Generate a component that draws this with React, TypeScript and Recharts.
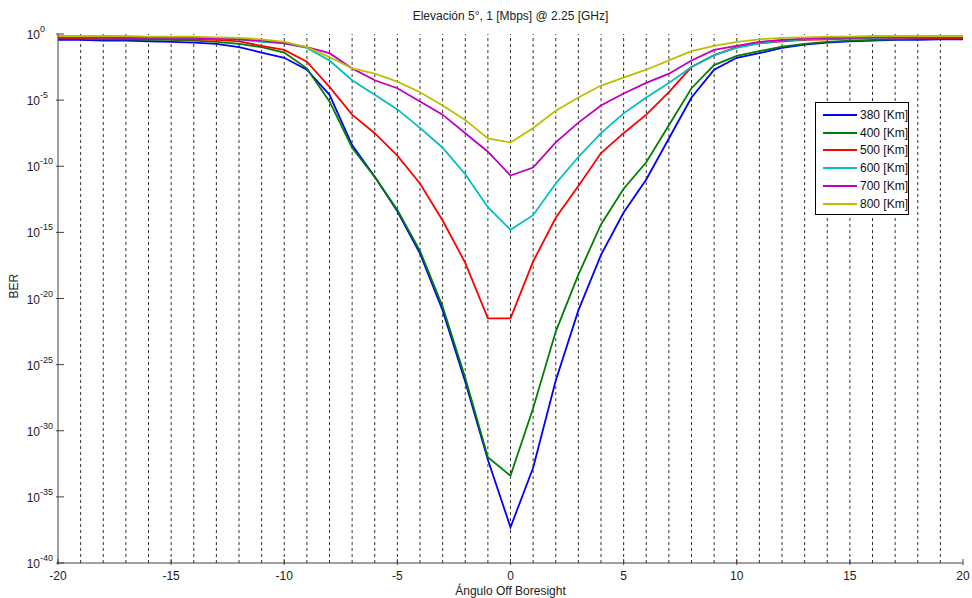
import { Line, LineChart, ReferenceLine, XAxis, YAxis } from "recharts";

// angle off boresight, degrees
const angles = [
  -20, -19, -18, -17, -16, -15, -14, -13, -12, -11, -10, -9, -8, -7, -6, -5, -4, -3, -2, -1, 0,
  1, 2, 3, 4, 5, 6, 7, 8, 9, 10, 11, 12, 13, 14, 15, 16, 17, 18, 19, 20,
];

// log10(BER) per altitude
const ber380 = [
  -0.45, -0.45, -0.5, -0.5, -0.55, -0.6, -0.65, -0.75, -1.0, -1.4, -1.8, -2.7, -4.6, -8.4, -10.8, -13.4, -16.6, -20.9, -26.3, -32.2, -37.3,
  -32.8, -26.2, -20.9, -16.7, -13.5, -11.0, -7.9, -4.8, -2.7, -1.8, -1.45, -1.05, -0.8, -0.65, -0.55, -0.5, -0.45, -0.45, -0.4, -0.4,
];
const ber400 = [
  -0.35, -0.35, -0.4, -0.4, -0.45, -0.45, -0.5, -0.6, -0.75, -1.0, -1.4, -2.6, -5.1, -8.6, -10.8, -13.3, -16.4, -20.6, -26.0, -32.0, -33.4,
  -28.3, -22.5, -18.2, -14.4, -11.7, -9.7, -6.9, -4.1, -2.35, -1.65, -1.3, -0.95, -0.75, -0.6, -0.5, -0.45, -0.4, -0.35, -0.35, -0.35,
];
const ber500 = [
  -0.3, -0.3, -0.3, -0.35, -0.35, -0.4, -0.4, -0.45, -0.55, -0.9, -1.2, -2.1, -4.0, -6.1, -7.5, -9.2, -11.3, -14.1, -17.3, -21.5, -21.5,
  -17.2, -13.9, -11.5, -9.0, -7.5, -6.1, -4.4, -2.5, -1.6, -1.0, -0.7, -0.55, -0.45, -0.4, -0.35, -0.3, -0.3, -0.3, -0.3, -0.3,
];
const ber600 = [
  -0.2, -0.2, -0.25, -0.25, -0.3, -0.3, -0.3, -0.35, -0.4, -0.6, -0.7, -1.05, -2.0, -3.5, -4.6, -5.7, -7.1, -8.6, -10.6, -13.1, -14.8,
  -13.7, -11.3, -9.3, -7.5, -6.0, -4.8, -3.7, -2.5, -1.6, -1.05, -0.7, -0.5, -0.4, -0.35, -0.3, -0.3, -0.25, -0.25, -0.2, -0.2,
];
const ber700 = [
  -0.25, -0.25, -0.25, -0.3, -0.3, -0.3, -0.3, -0.35, -0.4, -0.5, -0.7, -1.0, -1.45, -2.6, -3.5, -4.1, -5.1, -6.1, -7.5, -8.9, -10.7,
  -10.1, -8.2, -6.7, -5.4, -4.5, -3.7, -3.0, -2.0, -1.2, -0.9, -0.6, -0.45, -0.35, -0.3, -0.3, -0.25, -0.25, -0.25, -0.25, -0.25,
];
const ber800 = [
  -0.15, -0.15, -0.15, -0.15, -0.2, -0.2, -0.2, -0.25, -0.3, -0.4, -0.6, -1.0, -1.75, -2.6, -3.0, -3.6, -4.4, -5.4, -6.5, -7.9, -8.2,
  -7.1, -5.8, -4.8, -3.9, -3.3, -2.7, -2.0, -1.3, -0.9, -0.6, -0.4, -0.3, -0.25, -0.2, -0.2, -0.15, -0.15, -0.15, -0.15, -0.15,
];

const xTicks = [-20, -15, -10, -5, 0, 5, 10, 15, 20];
const yTicks = [0, -5, -10, -15, -20, -25, -30, -35, -40];
const gridAngles = angles.filter((a) => a > -20 && a < 20);

const series = [
  { key: "b380", name: "380 [Km]", color: "#0000ff", values: ber380 },
  { key: "b400", name: "400 [Km]", color: "#008000", values: ber400 },
  { key: "b500", name: "500 [Km]", color: "#ff0000", values: ber500 },
  { key: "b600", name: "600 [Km]", color: "#00bfbf", values: ber600 },
  { key: "b700", name: "700 [Km]", color: "#bf00bf", values: ber700 },
  { key: "b800", name: "800 [Km]", color: "#bfbf00", values: ber800 },
];

const data = angles.map((a, i) => {
  const row: Record<string, number> = { angle: a };
  series.forEach((s) => (row[s.key] = s.values[i]));
  return row;
});

const FONT = "'Liberation Sans', Arial, sans-serif";
const AXIS = "#404040";
const TICK_LEN = 6;

function BottomTick({ x, y, payload }: any) {
  return (
    <g>
      <line x1={x} y1={y} x2={x} y2={y - TICK_LEN} stroke={AXIS} />
      <text x={x} y={y + 15} textAnchor="middle" fontSize={12} fontFamily={FONT} fill="#222">
        {payload.value}
      </text>
    </g>
  );
}

function TopTick({ x, y }: any) {
  return <line x1={x} y1={y} x2={x} y2={y + TICK_LEN} stroke={AXIS} />;
}

function LeftTick({ x, y, payload }: any) {
  return (
    <g>
      <line x1={x} y1={y} x2={x + TICK_LEN + 2} y2={y} stroke={AXIS} />
      <text x={x - 16} y={y + 5} textAnchor="end" fontSize={12} fontFamily={FONT} fill="#222">
        10
      </text>
      <text x={x - 16} y={y - 2} textAnchor="start" fontSize={9} fontFamily={FONT} fill="#222">
        {payload.value}
      </text>
    </g>
  );
}

function RightTick({ x, y }: any) {
  return <line x1={x} y1={y} x2={x - TICK_LEN - 2} y2={y} stroke={AXIS} />;
}

function LegendBox() {
  return (
    <div
      style={{
        position: "absolute",
        left: 815,
        top: 102,
        width: 94,
        height: 113,
        border: "1px solid #000",
        background: "#fff",
        boxSizing: "border-box",
        padding: "3px 0 0 7px",
        fontFamily: FONT,
        fontSize: 12,
        color: "#111",
        whiteSpace: "nowrap",
      }}
    >
      {series.map((s) => (
        <div key={s.key} style={{ display: "flex", alignItems: "center", height: 17.8 }}>
          <span style={{ display: "inline-block", width: 35, height: 2, background: s.color, marginRight: 3 }} />
          <span>{s.name}</span>
        </div>
      ))}
    </div>
  );
}

export default function App() {
  return (
    <div style={{ position: "absolute", left: 0, top: 0, width: 972, height: 598, background: "#fff" }}>
      <div
        style={{
          position: "absolute",
          top: 9,
          left: 58,
          width: 905,
          textAlign: "center",
          fontFamily: FONT,
          fontSize: 12,
          color: "#222",
        }}
      >
        Elevación 5°, 1 [Mbps] @ 2.25 [GHz]
      </div>
      <LineChart width={972} height={598} data={data} margin={{ top: 34, right: 9, left: 0, bottom: 0 }}>
        <XAxis
          xAxisId="bottom"
          dataKey="angle"
          type="number"
          domain={[-20, 20]}
          ticks={xTicks}
          tick={<BottomTick />}
          tickSize={0}
          tickLine={false}
          height={35}
          axisLine={{ stroke: AXIS }}
          label={{ value: "Ángulo Off Boresight", position: "insideBottom", offset: 3, fontSize: 12, fontFamily: FONT, fill: "#222" }}
        />
        <XAxis
          xAxisId="top"
          orientation="top"
          dataKey="angle"
          type="number"
          domain={[-20, 20]}
          ticks={xTicks}
          tick={<TopTick />}
          tickSize={0}
          tickLine={false}
          height={0}
          axisLine={{ stroke: AXIS }}
        />
        <YAxis
          yAxisId="left"
          type="number"
          domain={[-40, 0]}
          ticks={yTicks}
          tick={<LeftTick />}
          tickSize={0}
          tickLine={false}
          width={58}
          axisLine={{ stroke: AXIS }}
          label={{ value: "BER", angle: -90, position: "insideLeft", offset: 14, fontSize: 12, fontFamily: FONT, fill: "#222" }}
        />
        <YAxis
          yAxisId="right"
          orientation="right"
          type="number"
          domain={[-40, 0]}
          ticks={yTicks}
          tick={<RightTick />}
          tickSize={0}
          tickLine={false}
          width={0}
          axisLine={{ stroke: AXIS }}
        />
        {gridAngles.map((a) => (
          <ReferenceLine
            key={a}
            x={a}
            xAxisId="bottom"
            yAxisId="left"
            stroke="#333"
            strokeDasharray="3 3"
            strokeWidth={1}
          />
        ))}
        {series.map((s) => (
          <Line
            key={s.key}
            xAxisId="bottom"
            yAxisId="left"
            type="linear"
            dataKey={s.key}
            name={s.name}
            stroke={s.color}
            strokeWidth={1.8}
            dot={false}
            isAnimationActive={false}
          />
        ))}
      </LineChart>
      <LegendBox />
    </div>
  );
}
